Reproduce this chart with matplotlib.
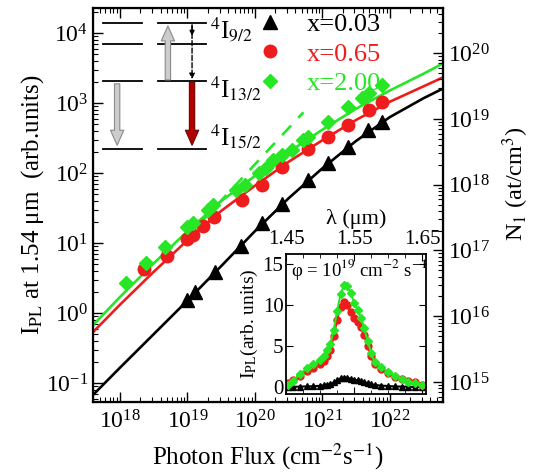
import matplotlib
matplotlib.use("Agg")
import matplotlib.pyplot as plt
from matplotlib.lines import Line2D
from matplotlib.ticker import LogLocator

plt.rcParams['font.family'] = ['Liberation Serif', 'DejaVu Serif']
plt.rcParams['mathtext.fontset'] = 'stix'

GREEN = '#26e626'
RED = '#ee1c1c'

# main panel: markers
flux_003 = [1.0e19, 1.29e19, 2.6e19, 6.2e19, 1.26e20, 2.5e20, 6.1e20, 1.2e21, 2.4e21, 4.7e21, 7.6e21]
ipl_003 = [1.53, 2.0, 3.85, 9.1, 19.3, 36, 79, 139, 234, 411, 537]

flux_065 = [2.3e18, 5.0e18, 1.0e19, 1.2e19, 1.7e19, 2.45e19, 6.5e19, 1.26e20, 2.5e20,
            6.1e20, 1.2e21, 2.4e21, 4.9e21, 7.6e21]
ipl_065 = [4.3, 6.5, 11.4, 13.0, 17.5, 23.4, 41, 68, 122, 220, 327, 485, 794, 1030]

flux_200 = [1.23e18, 2.43e18, 4.7e18, 1.0e19, 1.2e19, 2.0e19, 2.4e19, 5.25e19, 7.1e19,
            1.17e20, 1.45e20, 1.86e20, 2.57e20, 3.55e20, 5.1e20, 6.1e20, 1.2e21, 2.4e21,
            3.85e21, 5.0e21, 7.6e21]
ipl_200 = [2.7, 5.2, 8.8, 16.9, 19.3, 29.6, 34.9, 57, 67, 100, 117, 153, 181, 214, 295,
           327, 537, 871, 1175, 1380, 1807]

# fit curves
fit_flux = [4e17, 1e18, 3.16e18, 1e19, 3.16e19, 1e20, 3.16e20, 1e21, 3.16e21, 1e22, 3.16e22, 6.2e22]
fit_003 = [0.068, 0.166, 0.50, 1.51, 4.68, 14.8, 43.7, 117, 288, 631, 1175, 1622]
fit_065 = [0.537, 1.32, 3.89, 11.0, 28.8, 66.1, 145, 295, 575, 1047, 1738, 2344]
fit_200 = [0.676, 1.70, 5.13, 14.8, 39.8, 91.2, 200, 417, 832, 1514, 2630, 3715]

dash_flux = [1.6e19, 5.25e20]
dash_ipl = [20, 741]

# inset spectra at phi = 1e19
lam = [1.452, 1.46, 1.47, 1.48, 1.49, 1.50, 1.505, 1.51, 1.515, 1.52, 1.525, 1.53, 1.535,
       1.54, 1.545, 1.55, 1.555, 1.56, 1.565, 1.57, 1.575, 1.58, 1.59, 1.60, 1.61, 1.62,
       1.63, 1.64, 1.65]
spec_200 = [0.3, 0.8, 1.6, 2.3, 2.8, 3.3, 3.8, 4.5, 5.3, 7.0, 9.3, 11.3, 12.4, 12.3, 11.4,
            10.3, 9.4, 8.4, 7.2, 5.6, 4.2, 3.1, 2.5, 1.9, 1.4, 1.0, 0.7, 0.5, 0.3]
spec_065 = [0.5, 0.9, 1.4, 2.0, 2.4, 2.8, 3.2, 3.8, 4.6, 6.2, 8.2, 9.8, 10.4, 10.0, 9.2,
            8.4, 7.9, 7.3, 6.4, 5.0, 3.8, 2.8, 2.2, 1.7, 1.3, 1.0, 0.8, 0.7, 0.3]
spec_003 = [0.05, 0.07, 0.1, 0.12, 0.15, 0.2, 0.25, 0.3, 0.4, 0.6, 0.85, 1.1, 1.2, 1.15,
            1.05, 0.95, 0.85, 0.75, 0.65, 0.5, 0.4, 0.3, 0.22, 0.17, 0.12, 0.1, 0.08, 0.06, 0.05]

fig = plt.figure(figsize=(5.36, 4.75), dpi=100)
ax = fig.add_axes([0.1735, 0.1537, 0.653, 0.829])
ax.set_xscale('log')
ax.set_yscale('log')

ax.plot(fit_flux, fit_003, color='black', lw=1.9)
ax.plot(fit_flux, fit_065, color=RED, lw=1.9)
ax.plot(fit_flux, fit_200, color=GREEN, lw=1.9)
ax.plot(dash_flux, dash_ipl, color=GREEN, lw=1.9, ls=(0, (5, 4)))
ax.plot(flux_003, ipl_003, ls='none', marker='^', ms=9.5, color='black')
ax.plot(flux_065, ipl_065, ls='none', marker='o', ms=9, color=RED)
ax.plot(flux_200, ipl_200, ls='none', marker='D', ms=7.5, color=GREEN)

ax.set_xlim(10**17.6, 10**22.79)
ax.set_ylim(10**-1.27, 10**4.357)
ax.xaxis.set_major_locator(LogLocator(base=10, numticks=20))
ax.xaxis.set_minor_locator(LogLocator(base=10, subs=range(2, 10), numticks=20))
ax.yaxis.set_major_locator(LogLocator(base=10, numticks=20))
ax.yaxis.set_minor_locator(LogLocator(base=10, subs=range(2, 10), numticks=20))
ax.set_xlabel('Photon Flux (cm$^{-2}$s$^{-1}$)', fontsize=18, labelpad=6)
ax.set_ylabel('I$_{\\mathrm{PL}}$ at 1.54 μm  (arb.units)', fontsize=18, labelpad=0)
ax.tick_params(which='both', direction='in', top=True, right=False, labelsize=17)
ax.tick_params(axis='x', pad=6)
ax.tick_params(which='major', length=7, width=1)
ax.tick_params(which='minor', length=3.5, width=0.8)
for s in ax.spines.values():
    s.set_linewidth(1.6)

ax2 = ax.twinx()
ax2.set_yscale('log')
ax2.set_ylim(10**14.696, 10**20.684)
ax2.yaxis.set_major_locator(LogLocator(base=10, numticks=20))
ax2.yaxis.set_minor_locator(LogLocator(base=10, subs=range(2, 10), numticks=20))
ax2.set_ylabel('N$_1$ (at/cm$^3$)', fontsize=17.5)
ax2.yaxis.set_label_coords(1.165, 0.555)
ax2.tick_params(which='both', direction='in', labelsize=17)
ax2.tick_params(which='major', length=7, width=1)
ax2.tick_params(which='minor', length=3.5, width=0.8)

# energy level scheme
levels = [0.962, 0.909, 0.815, 0.642]
for y in levels:
    ax.plot([0.029, 0.14], [y, y], transform=ax.transAxes, color='black', lw=1.3)
    ax.plot([0.186, 0.323], [y, y], transform=ax.transAxes, color='black', lw=1.3)
arrow = 'simple,head_width=0.8,head_length=0.9,tail_width=0.32'
ax.annotate('', xy=(0.069, 0.652), xytext=(0.069, 0.808), xycoords='axes fraction',
            arrowprops=dict(arrowstyle=arrow, fc='#cccccc', ec='#8a8a8a', lw=0.8,
                            mutation_scale=12, shrinkA=0, shrinkB=0))
ax.annotate('', xy=(0.214, 0.955), xytext=(0.214, 0.818), xycoords='axes fraction',
            arrowprops=dict(arrowstyle=arrow, fc='#cccccc', ec='#8a8a8a', lw=0.8,
                            mutation_scale=12, shrinkA=0, shrinkB=0))
ax.annotate('', xy=(0.283, 0.652), xytext=(0.283, 0.812), xycoords='axes fraction',
            arrowprops=dict(arrowstyle=arrow, fc='#b00000', ec='#700000', lw=0.8,
                            mutation_scale=12, shrinkA=0, shrinkB=0))
ax.annotate('', xy=(0.283, 0.820), xytext=(0.283, 0.955), xycoords='axes fraction',
            arrowprops=dict(arrowstyle='-|>', color='black', lw=1, ls='--',
                            mutation_scale=8, shrinkA=0, shrinkB=0))
ax.annotate('', xy=(0.283, 0.930), xytext=(0.283, 0.958), xycoords='axes fraction',
            arrowprops=dict(arrowstyle='-|>', color='black', lw=1,
                            mutation_scale=7, shrinkA=0, shrinkB=0))
ax.text(0.335, 0.945, '$^4$I$_{9/2}$', transform=ax.transAxes, fontsize=18, va='center')
ax.text(0.335, 0.795, '$^4$I$_{13/2}$', transform=ax.transAxes, fontsize=18, va='center')
ax.text(0.335, 0.675, '$^4$I$_{15/2}$', transform=ax.transAxes, fontsize=18, va='center')

handles = [Line2D([], [], ls='none', marker='^', ms=9.5, color='black'),
           Line2D([], [], ls='none', marker='o', ms=9, color=RED),
           Line2D([], [], ls='none', marker='D', ms=7.5, color=GREEN)]
ax.legend(handles, ['x=0.03', 'x=0.65', 'x=2.00'], loc='upper left',
          bbox_to_anchor=(0.40, 1.05), frameon=False, fontsize=19,
          labelcolor=['black', RED, GREEN], handlelength=1.0, handletextpad=0.9,
          labelspacing=0.24)

# inset
ins = fig.add_axes([0.534, 0.1705, 0.261, 0.295])
ins.plot(lam, spec_003, color='black', lw=1.5, marker='^', ms=4)
ins.plot(lam, spec_065, color=RED, lw=1.5, marker='o', ms=5)
ins.plot(lam, spec_200, color=GREEN, lw=1.5, marker='D', ms=4.5)
ins.set_xlim(1.45, 1.656)
ins.set_ylim(-0.8, 16.2)
ins.set_xticks([1.45, 1.55, 1.65])
ins.set_xticks([1.475, 1.50, 1.525, 1.575, 1.60, 1.625], minor=True)
ins.set_yticks([0, 5, 10, 15])
ins.xaxis.tick_top()
ins.xaxis.set_label_position('top')
ins.tick_params(which='both', direction='in', top=True, bottom=True, left=True, right=True,
                labelsize=15)
ins.tick_params(axis='y', pad=2)
ins.tick_params(which='major', length=5)
ins.tick_params(which='minor', length=3)
ins.set_xlabel('λ (μm)', fontsize=16, labelpad=4)
ins.set_ylabel('I$_{\\mathrm{PL}}$(arb. units)', fontsize=14, labelpad=2)
ins.text(0.52, 0.89, 'φ = 10$^{19}$ cm$^{-2}$ s$^{-1}$', transform=ins.transAxes,
         ha='center', va='center', fontsize=13.5)
for s in ins.spines.values():
    s.set_linewidth(1.3)

fig.savefig('out.png', dpi=100)
